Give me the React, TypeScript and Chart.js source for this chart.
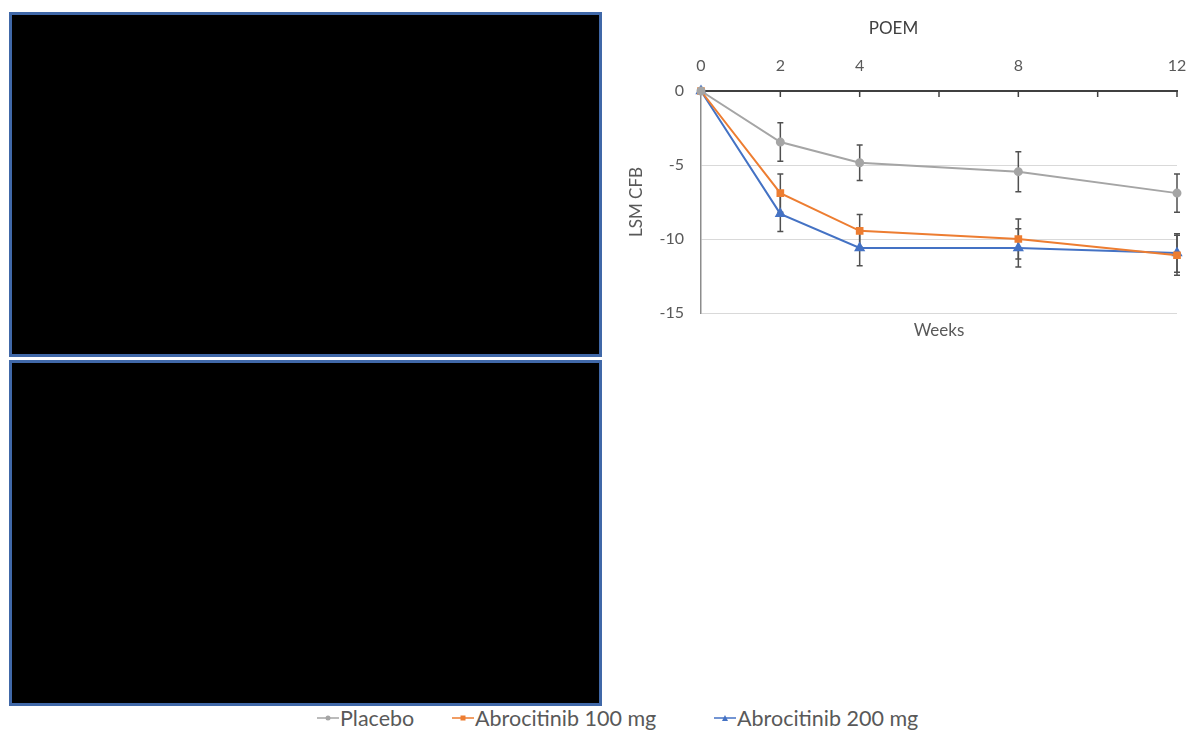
import React, { useEffect, useRef } from 'react';
import { Chart, registerables } from 'chart.js';

Chart.register(...registerables);

// ---- data ----
const weeks = [0, 2, 4, 8, 12];
const xTickValues = [0, 2, 4, 6, 8, 10, 12];
const xTickLabels = ['0', '2', '4', '', '8', '', '12'];
const yTickValues = [0, -5, -10, -15];
const seriesNames = ['Placebo', 'Abrocitinib 100 mg', 'Abrocitinib 200 mg'];
const placebo = [0, -3.45, -4.85, -5.45, -6.9];
const placeboErr = [0, 1.3, 1.2, 1.35, 1.3];
const abro100 = [0, -6.9, -9.45, -10.0, -11.1];
const abro100Err = [0, 1.3, 1.1, 1.35, 1.35];
const abro200 = [0, -8.3, -10.6, -10.6, -10.95];
const abro200Err = [0, 1.2, 1.2, 1.3, 1.3];

const chartTitle = 'POEM';
const yTitle = 'LSM CFB';
const xTitle = 'Weeks';

const colors = ['#A5A5A5', '#ED7D31', '#4472C4'];
const FONT = 'Lato, "Open Sans", sans-serif';

const errorBarPlugin = {
  id: 'errorBars',
  beforeDatasetsDraw(chart: any) {
    const { ctx, scales } = chart;
    const errs = [placeboErr, abro100Err, abro200Err];
    ctx.save();
    ctx.strokeStyle = '#505050';
    ctx.lineWidth = 1.5;
    chart.data.datasets.forEach((ds: any, i: number) => {
      ds.data.forEach((pt: any, j: number) => {
        const e = errs[i][j];
        if (!e) return;
        const x = scales.x.getPixelForValue(pt.x);
        const y1 = scales.y.getPixelForValue(pt.y + e);
        const y2 = scales.y.getPixelForValue(pt.y - e);
        ctx.beginPath();
        ctx.moveTo(x, y1);
        ctx.lineTo(x, y2);
        ctx.moveTo(x - 3, y1);
        ctx.lineTo(x + 3, y1);
        ctx.moveTo(x - 3, y2);
        ctx.lineTo(x + 3, y2);
        ctx.stroke();
      });
    });
    ctx.restore();
  },
  afterDraw(chart: any) {
    const { ctx, scales, chartArea } = chart;
    ctx.save();
    ctx.strokeStyle = '#404040';
    ctx.lineWidth = 1.5;
    xTickValues.forEach((v) => {
      if (v === 0) return;
      const x = scales.x.getPixelForValue(v);
      ctx.beginPath();
      ctx.moveTo(x, chartArea.top);
      ctx.lineTo(x, chartArea.top + 6);
      ctx.stroke();
    });
    ctx.restore();
  },
};

function POEMChart() {
  const ref = useRef<HTMLCanvasElement>(null);
  useEffect(() => {
    if (!ref.current) return;
    const mk = (vals: number[]) => weeks.map((w, i) => ({ x: w, y: vals[i] }));
    const chart = new Chart(ref.current, {
      type: 'line',
      data: {
        datasets: [
          {
            label: seriesNames[0],
            data: mk(placebo),
            borderColor: colors[0],
            backgroundColor: colors[0],
            borderWidth: 2,
            pointStyle: 'circle',
            pointRadius: 3.5,
            tension: 0,
            clip: false,
          },
          {
            label: seriesNames[1],
            data: mk(abro100),
            borderColor: colors[1],
            backgroundColor: colors[1],
            borderWidth: 2,
            pointStyle: 'rect',
            pointRadius: 4,
            tension: 0,
            clip: false,
          },
          {
            label: seriesNames[2],
            data: mk(abro200),
            borderColor: colors[2],
            backgroundColor: colors[2],
            borderWidth: 2,
            pointStyle: 'triangle',
            pointRadius: 4.5,
            tension: 0,
            clip: false,
          },
        ],
      } as any,
      options: {
        responsive: false,
        animation: false,
        devicePixelRatio: 1,
        layout: { padding: { left: 0, right: 12, top: 0, bottom: 0 } },
        plugins: {
          legend: { display: false },
          tooltip: { enabled: false },
          title: {
            display: true,
            text: chartTitle,
            color: '#404040',
            font: { family: FONT, size: 17, weight: 'normal', lineHeight: 1.2 },
            padding: { top: 8, bottom: 8.6 },
          },
        },
        scales: {
          x: {
            type: 'linear',
            position: 'top',
            min: 0,
            max: 12,
            afterBuildTicks: (s: any) => {
              s.ticks = xTickValues.map((v) => ({ value: v }));
            },
            afterFit: (s: any) => {
              s.height = 44;
            },
            ticks: {
              callback: (_v: any, i: number) => xTickLabels[i],
              color: '#595959',
              font: { family: FONT, size: 16 },
              padding: 0,
              maxRotation: 0,
              autoSkip: false,
            },
            grid: {
              display: true,
              drawOnChartArea: false,
              drawTicks: true,
              tickLength: 16,
              tickColor: 'rgba(0,0,0,0)',
              color: 'rgba(0,0,0,0)',
            },
            border: { display: true, color: '#404040', width: 2 },
          },
          x2: {
            type: 'linear',
            position: 'bottom',
            min: 0,
            max: 12,
            afterFit: (s: any) => {
              s.height = 37;
            },
            ticks: { display: false },
            grid: { display: false, drawTicks: false },
            border: { display: false },
            title: {
              display: true,
              text: xTitle,
              color: '#595959',
              font: { family: FONT, size: 17 },
              padding: { top: 0, bottom: 9.5 },
            },
          },
          y: {
            type: 'linear',
            min: -15,
            max: 0,
            afterBuildTicks: (s: any) => {
              s.ticks = yTickValues.map((v) => ({ value: v }));
            },
            afterFit: (s: any) => {
              s.width = 91;
            },
            ticks: {
              color: '#595959',
              font: { family: FONT, size: 16 },
              padding: 17,
            },
            grid: {
              drawTicks: false,
              color: (c: any) => (c.tick && c.tick.value === 0 ? 'rgba(0,0,0,0)' : '#D9D9D9'),
              lineWidth: 1,
            },
            border: { display: true, color: '#8C8C8C', width: 1.5 },
            title: {
              display: true,
              text: yTitle,
              color: '#595959',
              font: { family: FONT, size: 17 },
              padding: { top: 16, bottom: 0 },
            },
          },
        },
      } as any,
      plugins: [errorBarPlugin],
    });
    return () => chart.destroy();
  }, []);
  return (
    <canvas
      ref={ref}
      width={579}
      height={340}
      style={{ position: 'absolute', left: 610, top: 10, width: 579, height: 340 }}
    />
  );
}

function Marker({ i }: { i: number }) {
  const c = colors[i];
  return (
    <svg width={22} height={10} style={{ display: 'block' }}>
      <line x1={0} y1={5} x2={22} y2={5} stroke={c} strokeWidth={1.5} />
      {i === 0 && <circle cx={11} cy={5} r={2.5} fill={c} />}
      {i === 1 && <rect x={8.5} y={2.5} width={5} height={5} fill={c} />}
      {i === 2 && <polygon points="11,2 14,8 8,8" fill={c} />}
    </svg>
  );
}

const legendLefts = [317, 452, 714];

export default function App() {
  const boxStyle = (top: number, height: number): React.CSSProperties => ({
    position: 'absolute',
    left: 9,
    top,
    width: 593,
    height,
    background: '#000',
    border: '3px solid #4068A8',
    boxSizing: 'border-box',
  });
  return (
    <div style={{ position: 'absolute', left: 0, top: 0, width: 1189, height: 740, background: '#fff', overflow: 'hidden' }}>
      <div style={boxStyle(12, 345)} />
      <div style={boxStyle(360, 346)} />
      <POEMChart />
      {seriesNames.map((name, i) => (
        <div
          key={name}
          style={{
            position: 'absolute',
            left: legendLefts[i],
            top: 706,
            height: 24,
            display: 'flex',
            alignItems: 'center',
            fontFamily: FONT,
            fontSize: 21.5,
            color: '#595959',
            whiteSpace: 'nowrap',
          }}
        >
          <Marker i={i} />
          <span style={{ marginLeft: 1 }}>{name}</span>
        </div>
      ))}
    </div>
  );
}
